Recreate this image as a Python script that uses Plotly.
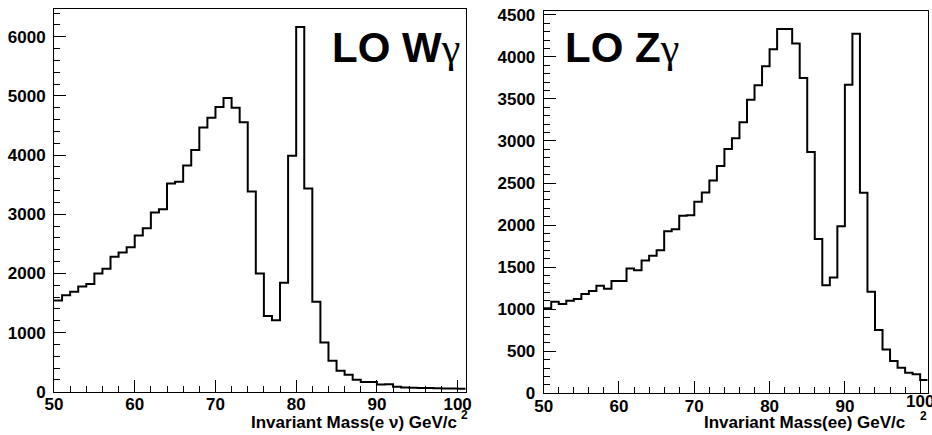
import plotly.graph_objects as go

# Bin edges: 1 GeV bins from 50 to 101 GeV/c^2
bin_low = list(range(50, 101))
bin_high_edge = 101

# LO W-gamma: invariant mass of (e nu), events per bin
w_counts = [
    1540, 1630, 1690, 1780, 1820, 2000, 2080, 2280, 2355, 2440,
    2640, 2765, 3030, 3085, 3520, 3550, 3825, 4085, 4465, 4630,
    4815, 4965, 4800, 4555, 3385, 2000, 1280, 1210, 1840, 3990,
    6165, 3435, 1520, 830, 525, 355, 285, 200, 165, 165,
    120, 125, 85, 70, 68, 62, 62, 60, 56, 52,
    50,
]

# LO Z-gamma: invariant mass of (ee), events per bin
z_counts = [
    1010, 1088, 1062, 1100, 1120, 1180, 1215, 1278, 1243, 1334,
    1334, 1484, 1464, 1580, 1636, 1702, 1927, 1951, 2110, 2118,
    2276, 2388, 2530, 2703, 2905, 3032, 3222, 3491, 3661, 3887,
    4089, 4330, 4330, 4160, 3748, 2870, 1833, 1286, 1377, 1987,
    3669, 4275, 2383, 1207, 752, 522, 384, 305, 245, 226,
    158,
]

x_ticks = [50, 60, 70, 80, 90, 100]
w_yticks = [0, 1000, 2000, 3000, 4000, 5000, 6000]
z_yticks = [0, 500, 1000, 1500, 2000, 2500, 3000, 3500, 4000, 4500]

W, H = 932, 435


def step(counts):
    xs = bin_low + [bin_high_edge]
    ys = counts + [counts[-1]]
    return xs, ys


fig = go.Figure()
for counts, xa, ya in [(w_counts, "x", "y"), (z_counts, "x2", "y2")]:
    xs, ys = step(counts)
    fig.add_trace(go.Scatter(
        x=xs, y=ys, mode="lines", line_shape="hv",
        line=dict(color="black", width=2),
        xaxis=xa, yaxis=ya, showlegend=False, hoverinfo="skip",
    ))

tick_font = dict(family="Liberation Sans, Arial, sans-serif", size=17,
                 color="black", weight="bold")


def xaxis(domain, anchor):
    return dict(
        domain=domain, anchor=anchor, range=[50, 101], automargin=False,
        tickvals=x_ticks, ticktext=[str(v) for v in x_ticks],
        ticks="inside", ticklen=12, tickwidth=1, tickcolor="black",
        minor=dict(ticks="inside", ticklen=6, tickwidth=1, tickcolor="black", dtick=2, tick0=50),
        showline=True, linecolor="black", linewidth=1, mirror=True,
        showgrid=False, zeroline=False, tickfont=tick_font,
        ticklabelstandoff=-3,
    )


def yaxis(domain, anchor, rng, vals, minor_dtick):
    return dict(
        domain=domain, anchor=anchor, range=rng, automargin=False,
        tickvals=vals, ticktext=[str(v) for v in vals],
        ticks="inside", ticklen=12, tickwidth=1, tickcolor="black",
        minor=dict(ticks="inside", ticklen=6, tickwidth=1, tickcolor="black", dtick=minor_dtick, tick0=0),
        showline=True, linecolor="black", linewidth=1, mirror=True,
        showgrid=False, zeroline=False, tickfont=tick_font,
        ticklabelstandoff=4,
    )


fig.update_layout(
    width=W, height=H,
    margin=dict(l=0, r=0, t=0, b=0, autoexpand=False),
    paper_bgcolor="white", plot_bgcolor="white",
    xaxis=xaxis([54 / W, 465.7 / W], "y"),
    yaxis=yaxis([1 - 391.7 / H, 1 - 9 / H], "x", [0, 6470], w_yticks, 200),
    xaxis2=xaxis([543.7 / W, 927.7 / W], "y2"),
    yaxis2=yaxis([1 - 393.3 / H, 1 - 11 / H], "x2", [0, 4545], z_yticks, 100),
)

# The last x label of the right panel runs past the page edge, where the
# axis would drop it; draw it as plain text so it is clipped like the rest.
fig.add_annotation(text="100", xref="x2", x=100, yref="paper", y=1 - 401 / H,
                   xanchor="center", yanchor="middle", showarrow=False,
                   font=tick_font)

title_font = dict(family="Liberation Sans, Arial, sans-serif", size=42,
                  color="black", weight="bold")
gamma = "<span style='font-family:Liberation Serif, Times New Roman, serif;font-weight:normal'>γ</span>"

fig.add_annotation(text="LO W" + gamma, xref="paper", yref="paper",
                   x=462 / W, y=1 - 73 / H, xanchor="right", yanchor="bottom",
                   showarrow=False, font=title_font)
fig.add_annotation(text="LO Z" + gamma, xref="paper", yref="paper",
                   x=563 / W, y=1 - 73 / H, xanchor="left", yanchor="bottom",
                   showarrow=False, font=title_font)

label_font = dict(family="Liberation Sans, Arial, sans-serif", size=17,
                  color="black", weight="bold")
sup_font = dict(family="Liberation Sans, Arial, sans-serif", size=12,
                color="black", weight="bold")

fig.add_annotation(text="Invariant Mass(e ν) GeV/c", xref="paper", yref="paper",
                   x=459 / W, y=1 - 422 / H, xanchor="right", yanchor="middle",
                   showarrow=False, font=label_font)
fig.add_annotation(text="2", xref="paper", yref="paper",
                   x=464 / W, y=1 - 415 / H, xanchor="center", yanchor="middle",
                   showarrow=False, font=sup_font)
fig.add_annotation(text="Invariant Mass(ee) GeV/c", xref="paper", yref="paper",
                   x=907 / W, y=1 - 422 / H, xanchor="right", yanchor="middle",
                   showarrow=False, font=label_font)
fig.add_annotation(text="2", xref="paper", yref="paper",
                   x=923.5 / W, y=1 - 416 / H, xanchor="center", yanchor="middle",
                   showarrow=False, font=sup_font)

fig.write_html("out.html")
